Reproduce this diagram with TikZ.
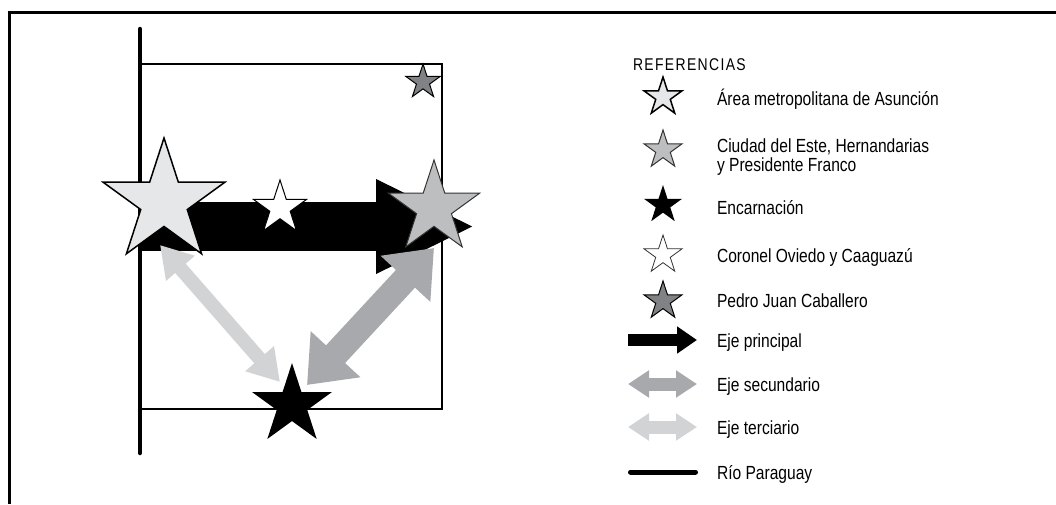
\documentclass[tikz,border=0pt]{standalone}
\usepackage{fontspec}
\setmainfont{Liberation Sans}[FakeStretch=0.82]
\usetikzlibrary{shapes.geometric, arrows.meta}
\definecolor{starlight}{HTML}{E6E7E8}
\definecolor{starmid}{HTML}{BCBEC0}
\definecolor{stardark}{HTML}{808285}
\definecolor{axismid}{HTML}{A7A9AC}
\definecolor{axislight}{HTML}{D1D3D4}

\begin{document}
\begin{tikzpicture}[x=1pt, y=-1pt,
	every node/.style={inner sep=0pt, outer sep=0pt},
	city/.style={star, star points=5, star point ratio=2.618, minimum size=#1},
	legtext/.style={anchor=base west, align=left, font=\fontsize{19}{19}\selectfont}]

			\useasboundingbox (0,0) rectangle (1056,504);
			% Frame
			\draw[line width=3] (9,10.5) -- (9,504);
			\draw[line width=3] (7.5,12) -- (1056,12);
			% Region and river
			\draw[line width=2] (140,64) rectangle (442,409);
			\draw[line width=4.5, line cap=round] (140,29) -- (140,453);

			% Arrow ends
			\coordinate (mainstart) at (142,226.5);
			\coordinate (maintip)   at (475,226.5);
			\coordinate (terasu)    at (160,245);
			\coordinate (terenc)    at (280,382);
			\coordinate (seccde)    at (434,248);
			\coordinate (secenc)    at (307,385);
			% Axes
			\draw[line width=49, black, -{Triangle[length=99pt, width=87pt]}] (mainstart) -- (maintip);
			\draw[line width=14, axislight, {Triangle[length=31pt, width=36pt]}-{Triangle[length=31pt, width=36pt]}] (terasu) -- (terenc);
			\draw[line width=26, axismid, {Triangle[length=42pt, width=65pt]}-{Triangle[length=42pt, width=65pt]}] (seccde) -- (secenc);

			% Cities
			\node[city=128, draw, line width=1.5, fill=starlight] (asu) at (164,202) {};
			\node[city=96,  draw=black!80, line width=1, fill=starmid] (cde) at (434,208) {};
			\node[city=84,  fill=black] (enc) at (292,405) {};
			\node[city=56,  draw, line width=1, fill=white] (cov) at (280,208) {};
			\node[city=36,  draw, line width=1, fill=stardark] (pjc) at (423,82) {};

			% Legend
			\node[legtext, font=\fontsize{17}{18}\selectfont\addfontfeature{LetterSpace=8}] (reftitle) at (633,70) {REFERENCIAS};
			\node[city=40, draw, line width=1.5, fill=starlight] (legasu) at (663,97) {};
			\node[city=40, draw=black!80, line width=1, fill=starmid] (legcde) at (663,150) {};
			\node[city=40, fill=black] (legenc) at (663,205) {};
			\node[city=40, draw=black!80, line width=0.8, fill=white] (legcov) at (663,255) {};
			\node[city=40, draw, line width=1, fill=stardark] (legpjc) at (663,301) {};
			\draw[line width=12, black, -{Triangle[length=20pt, width=26pt]}] (628,340) -- (697,340);
			\draw[line width=13, axismid, {Triangle[length=21pt, width=26pt]}-{Triangle[length=21pt, width=26pt]}] (628,384) -- (697,384);
			\draw[line width=13, axislight, {Triangle[length=21pt, width=26pt]}-{Triangle[length=21pt, width=26pt]}] (628,427) -- (697,427);
			\draw[line width=5, line cap=round] (630.5,472) -- (695.5,472);

			\node[legtext] (txtasu) at (717,105) {Área metropolitana de Asunción};
			\node[legtext] (txtcde) at (717,171) {Ciudad del Este, Hernandarias\\y Presidente Franco};
			\node[legtext] (txtenc) at (717,214) {Encarnación};
			\node[legtext] (txtcov) at (717,262) {Coronel Oviedo y Caaguazú};
			\node[legtext] (txtpjc) at (717,307) {Pedro Juan Caballero};
			\node[legtext] (txtpri) at (717,347) {Eje principal};
			\node[legtext] (txtsec) at (717,391) {Eje secundario};
			\node[legtext] (txtter) at (717,434) {Eje terciario};
			\node[legtext] (txtrio) at (717,479) {Río Paraguay};
		\end{tikzpicture}
\end{document}
